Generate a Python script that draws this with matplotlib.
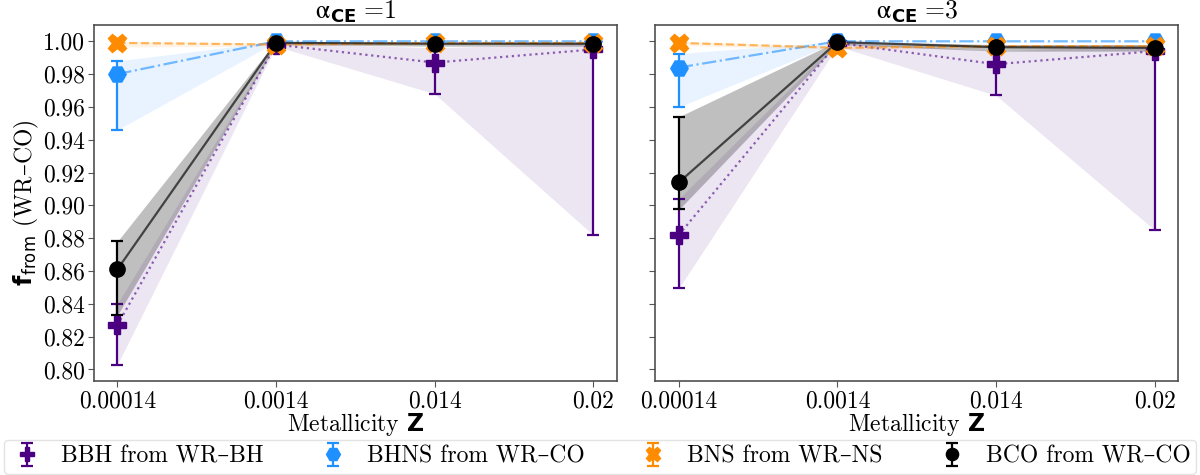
import matplotlib
matplotlib.use('Agg')
import matplotlib.pyplot as plt
import numpy as np

plt.rcParams['font.family'] = ['cmr10', 'DejaVu Serif']
plt.rcParams['axes.formatter.use_mathtext'] = True
plt.rcParams['mathtext.fontset'] = 'custom'
plt.rcParams['mathtext.rm'] = 'cmr10'
plt.rcParams['mathtext.it'] = 'cmmi10'
plt.rcParams['mathtext.bf'] = 'DejaVu Sans:bold'
plt.rcParams['mathtext.sf'] = 'DejaVu Sans'
plt.rcParams['mathtext.tt'] = 'DejaVu Serif'   # only used for the en dash below
plt.rcParams['mathtext.fallback'] = 'stix'

Z_labels = ['0.00014', '0.0014', '0.014', '0.02']
alphas = ['1', '3']

# alpha_CE = 1
bbh_1 = [0.827, 0.998, 0.987, 0.995]
bbh_1_lo = [0.803, 0.997, 0.968, 0.882]
bbh_1_hi = [0.840, 0.999, 0.996, 0.999]
bhns_1 = [0.980, 1.000, 1.000, 1.000]
bhns_1_lo = [0.946, 0.9995, 0.9995, 0.9995]
bhns_1_hi = [0.988, 1.000, 1.000, 1.000]
bns_1 = [0.999, 0.998, 0.999, 0.999]
bns_1_lo = [0.9965, 0.997, 0.998, 0.998]
bns_1_hi = [1.000, 0.999, 0.9995, 0.9995]
bco_1 = [0.861, 0.999, 0.9985, 0.9985]
bco_1_lo = [0.833, 0.998, 0.997, 0.997]
bco_1_hi = [0.878, 1.000, 0.9995, 0.9995]

# alpha_CE = 3
bbh_3 = [0.882, 0.999, 0.986, 0.994]
bbh_3_lo = [0.8495, 0.997, 0.967, 0.885]
bbh_3_hi = [0.904, 1.000, 0.994, 0.998]
bhns_3 = [0.984, 1.000, 1.000, 1.000]
bhns_3_lo = [0.960, 0.9995, 0.9995, 0.9995]
bhns_3_hi = [0.9925, 1.000, 1.000, 1.000]
bns_3 = [0.999, 0.996, 0.997, 0.997]
bns_3_lo = [0.9975, 0.995, 0.996, 0.996]
bns_3_hi = [1.000, 0.997, 0.998, 0.998]
bco_3 = [0.914, 0.9995, 0.9964, 0.996]
bco_3_lo = [0.8975, 0.998, 0.994, 0.994]
bco_3_hi = [0.954, 1.000, 0.998, 0.998]

panels = [
    [(bbh_1, bbh_1_lo, bbh_1_hi), (bhns_1, bhns_1_lo, bhns_1_hi),
     (bns_1, bns_1_lo, bns_1_hi), (bco_1, bco_1_lo, bco_1_hi)],
    [(bbh_3, bbh_3_lo, bbh_3_hi), (bhns_3, bhns_3_lo, bhns_3_hi),
     (bns_3, bns_3_lo, bns_3_hi), (bco_3, bco_3_lo, bco_3_hi)],
]

names = ['BBH from WR\u2013BH', 'BHNS from WR\u2013CO', 'BNS from WR\u2013NS', 'BCO from WR\u2013CO']
colors = ['indigo', 'dodgerblue', 'darkorange', 'black']
markers = ['P', 'H', 'X', 'o']
msizes = [13, 12.5, 13, 11]
lstyles = [':', '-.', '--', '-']
line_alpha = [0.6, 0.6, 0.6, 0.65]
fill_alpha = [0.1, 0.1, 0.1, 0.25]

fig, axes = plt.subplots(1, 2, figsize=(12, 4.75), dpi=100, sharey=True)
fig.subplots_adjust(left=0.078, right=0.982, top=0.947, bottom=0.198, wspace=0.073)

x = np.arange(len(Z_labels))
handles = []
for ax, series, a in zip(axes, panels, alphas):
    hs = []
    for (y, lo, hi), c, m, ms, ls, la, fa, name in zip(series, colors, markers, msizes,
                                                        lstyles, line_alpha, fill_alpha, names):
        y = np.array(y)
        lo = np.array(lo)
        hi = np.array(hi)
        ax.fill_between(x, lo, hi, color=c, alpha=fa, lw=0)
        ax.plot(x, y, ls=ls, color=c, alpha=la, lw=1.6)
        h = ax.errorbar(x, y, yerr=[y - lo, hi - y], fmt=m, color=c, ms=ms,
                        capsize=4.5, elinewidth=1.6, capthick=1.6, label=name)
        hs.append(h)
    handles.append(hs)
    ax.set_xticks(x)
    ax.set_xticklabels(Z_labels)
    ax.set_xlim(-0.15, 3.15)
    ax.set_title(r'$\alpha_{\mathbf{CE}}\;$=' + a, fontsize=18.5, pad=2)
    ax.set_xlabel(r'Metallicity $\mathbf{Z}$', fontsize=17, labelpad=-1)
    ax.tick_params(labelsize=17, color='#555555', length=4, pad=2.5)
    for sp in ax.spines.values():
        sp.set_color('#505050')
        sp.set_linewidth(1.2)

axes[0].set_ylim(0.793, 1.0098)
axes[0].set_yticks(np.arange(0.80, 1.001, 0.02))
axes[0].set_yticklabels(['%.2f' % v for v in np.arange(0.80, 1.001, 0.02)])
axes[0].set_ylabel('$\\mathbf{f}_{\\mathsf{from}}$ (WR$\\mathtt{\u2013}$CO)', fontsize=17, labelpad=1)

leg = fig.legend(handles[0], names, loc='lower left', ncol=4, mode='expand',
                 bbox_to_anchor=(0.003, 0.003, 0.994, 0.07), fontsize=17,
                 markerscale=0.8, borderaxespad=0, handlelength=1.5, handletextpad=0.7,
                 borderpad=0.25)
leg.get_frame().set_edgecolor('#dddddd')

fig.savefig('out.png', dpi=100)
